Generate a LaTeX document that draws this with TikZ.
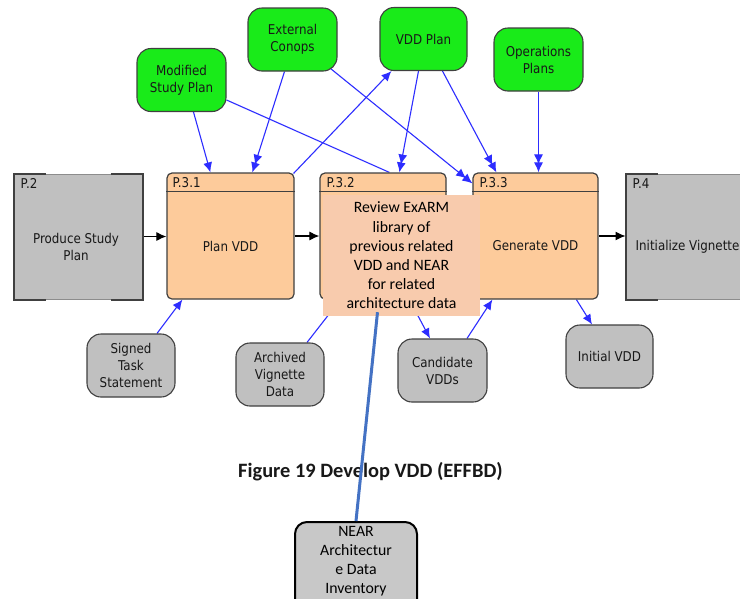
\documentclass[tikz,border=0pt]{standalone}
\usepackage{fontspec}
\setmainfont{DejaVu Sans}[FakeStretch=0.88]
\newfontfamily\carlitofont{Carlito}
\usetikzlibrary{arrows.meta,calc,backgrounds}

\definecolor{peach}{RGB}{253,203,155}
\definecolor{reviewfill}{RGB}{248,203,173}
\definecolor{extgray}{RGB}{192,192,192}
\definecolor{neargray}{RGB}{200,200,200}
\definecolor{lime}{RGB}{25,235,25}
\definecolor{edge}{RGB}{64,64,64}
\definecolor{midgray}{RGB}{140,140,140}
\definecolor{flowblue}{RGB}{45,45,255}
\definecolor{linkblue}{RGB}{68,114,196}
\definecolor{ink}{RGB}{24,24,24}

\begin{document}
\begin{tikzpicture}[x=1pt,y=-1pt,
  font=\fontsize{13.5}{17}\selectfont, text=ink,
  proc/.style={draw=edge, line width=1.2pt, fill=peach, rounded corners=5pt,
    minimum height=126pt, inner sep=0pt},
  extproc/.style={draw=midgray, line width=1pt, fill=extgray,
    minimum height=125pt, inner sep=0pt},
  bracket/.style={draw=edge, line width=2pt},
  headline/.style={draw=edge, line width=1.2pt},
  tag/.style={anchor=west, inner sep=0pt},
  item/.style={draw=edge, line width=1.1pt, rounded corners=14pt,
    minimum width=89pt, minimum height=63pt, align=center, inner sep=0pt},
  greenitem/.style={item, fill=lime},
  grayitem/.style={item, fill=extgray},
  flow/.style={draw=flowblue, line width=1.1pt, -{Latex[length=10pt,width=9pt]}},
  dflow/.style={draw=flowblue, line width=1.1pt,
    -{Latex[length=10pt,width=9pt,sep=-2pt]Latex[length=10pt,width=9pt]}},
  plainflow/.style={draw=flowblue, line width=1.1pt},
  ctrl/.style={draw=black, line width=1.1pt, -{Latex[length=10pt,width=9pt]}},
  calib/.style={font=\carlitofont\fontsize{15.8}{19.2}\selectfont, text=black}
]
\useasboundingbox (0,0) rectangle (740,598);
\clip (0,0) rectangle (740,598);

% function blocks
\node[extproc, minimum width=128pt] (p2) at (78,236.5) {};
\node[proc, minimum width=127pt] (p31) at (230.5,236) {};
\node[proc, minimum width=126pt] (p32) at (383,236) {};
\node[proc, minimum width=125pt] (p33) at (535.5,236) {};
\node[extproc, minimum width=134pt] (p4) at (693,236.5) {};

% corner brackets of the external blocks
\draw[bracket] ($(p2.north west)+(32,0)$) -- (p2.north west) -- (p2.south west) -- ++(32,0);
\draw[bracket] ($(p2.north east)+(-32,0)$) -- (p2.north east) -- (p2.south east) -- ++(-32,0);
\draw[bracket] ($(p4.north west)+(32,0)$) -- (p4.north west) -- (p4.south west) -- ++(32,0);

% header rules
\foreach \b in {p31,p32,p33}
  \draw[headline] ([yshift=-19pt]\b.north west) -- ([yshift=-19pt]\b.north east);

% block tags and titles
\node[tag] (l2)  at ($(p2.north west)+(7,10)$) {P.2};
\node[tag] (l31) at ($(p31.north west)+(6,10)$) {P.3.1};
\node[tag] (l32) at ($(p32.north west)+(7,10)$) {P.3.2};
\node[tag] (l33) at ($(p33.north west)+(7,10)$) {P.3.3};
\node[tag] (l4)  at ($(p4.north west)+(7,10)$) {P.4};
\node[align=center] (t2)  at ($(p2.center)+(-2,10)$) {Produce Study\\Plan};
\node (t31) at ($(p31.center)+(0,10)$) {Plan VDD};
\node (t33) at ($(p33.center)+(0,10)$) {Generate VDD};
\node[anchor=west, inner sep=0pt] (t4) at ($(p4.west)+(10,10)$) {Initialize Vignette};

% input / output items
\node[greenitem] (msp) at (181.5,80) {Modified\\Study Plan};
\node[greenitem] (ec)  at (292.5,39.5) {External\\Conops};
\node[greenitem, minimum width=87pt] (vdd) at (423.5,39) {VDD Plan};
\node[greenitem] (ops) at (538.5,59.5) {Operations\\Plans};
\node[grayitem, minimum width=88pt] (sts) at (131,365.5) {Signed\\Task\\Statement};
\node[grayitem, minimum width=88pt] (avd) at (280,374.5) {Archived\\Vignette\\Data};
\node[grayitem] (cvd) at (442.5,370.5) {Candidate\\VDDs};
\node[grayitem, minimum width=87pt] (ivd) at (609.5,356.5) {Initial VDD};

% control flow and data flow, kept beneath the blocks
\begin{pgfonlayer}{background}
\fill[white] (0,0) rectangle (740,598);
\draw[ctrl] (p2.east) -- (p2.east -| p31.west);
\draw[ctrl] (p31.east) -- (p31.east -| p32.west);
\draw[ctrl] (p32.east) -- (p32.east -| p33.west);
\draw[ctrl] (p33.east) -- (p33.east -| p4.west);

\draw[flow]  ($(msp.south)+(12,0)$) -- ($(p31.north west)+(44,0)$);
\draw[dflow] ($(ec.south)+(-8,0)$) -- ($(p31.north west)+(86,0)$);
\draw[plainflow] ($(msp.east)+(0,20)$) -- ($(p32.north west)+(70,0)$);
\draw[dflow] ($(vdd.south)+(-5,0)$) -- ($(p32.north west)+(80,0)$);
\draw[dflow] ($(vdd.south)+(19,0)$) -- ($(p33.north west)+(24,0)$);
\draw[dflow] ($(ec.south east)+(-7,-3)$) -- ($(p33.north west)+(0,11)$);
\draw[dflow] (ops.south) -- (ops.south |- p33.north);
\draw[flow]  ($(p31.north east)+(-1,1)$) -- ($(vdd.south west)+(12,0)$);
\draw[flow]  ($(sts.north)+(26,0)$) -- ($(p31.south west)+(16,0)$);
\draw[flow]  ($(avd.north)+(27,0)$) -- ($(p32.south west)+(21,0)$);
\draw[flow]  ($(p32.south west)+(90,0)$) -- ($(cvd.north)+(-12.5,0)$);
\draw[flow]  ($(cvd.north)+(24.5,0)$) -- ($(p33.south west)+(20,0)$);
\draw[flow]  ($(p33.south west)+(104,0)$) -- ($(ivd.north)+(-17.5,0)$);
\end{pgfonlayer}

% review note laid over the blocks
\node[calib, fill=reviewfill, minimum width=157pt, minimum height=121pt,
  align=center, inner sep=0pt] (review) at (401.5,255.5)
  {Review ExARM\\library of\\previous related\\VDD and NEAR\\for related\\architecture data};

% caption
\node[anchor=base, inner sep=0pt,
  font=\carlitofont\bfseries\fontsize{20.4}{23}\selectfont, text=ink]
  (caption) at (370.5,477.5) {Figure 19 Develop VDD (EFFBD)};

% inventory box and its link
\node[draw=black, line width=2pt, fill=neargray, rounded corners=12pt,
  minimum width=122pt, minimum height=120pt] (near) at (356,582) {};
\node[calib, anchor=north, align=center, inner sep=0pt] (neartext)
  at ($(near.north)+(0,5)$) {NEAR\\Architectur\\e Data\\Inventory};
\draw[draw=linkblue, line width=3pt] ($(review.south)+(-24,-4)$) -- (near.north);
\end{tikzpicture}
\end{document}
